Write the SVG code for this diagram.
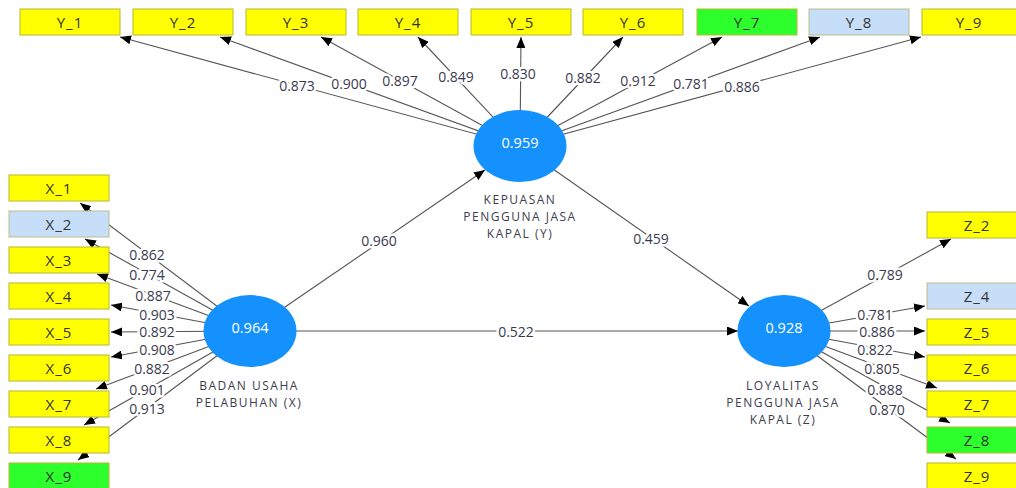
<svg xmlns="http://www.w3.org/2000/svg" width="1016" height="488" viewBox="0 0 1016 488">
<style>
.bg{fill:#ffffff}
.ln{stroke:#555555;stroke-width:1.1;fill:none}
.arr{marker-end:url(#ah)}
.lbl{font-family:"Open Sans","Noto Sans",sans-serif;font-size:14px;fill:#3a3a4e;text-anchor:middle;dominant-baseline:central;stroke:#ffffff;stroke-width:5;stroke-linejoin:round;paint-order:stroke}
.box{stroke:#b8b832;stroke-width:1}
.yel{fill:#ffff00}
.blu{fill:#c7def8;stroke:#b9bd8c}
.grn{fill:#2cff2c}
.btx{font-family:"Open Sans","Noto Sans",sans-serif;font-size:15px;fill:#333333;text-anchor:middle;dominant-baseline:central;letter-spacing:1px}
.lv{fill:#1591fd}
.lvv{font-family:"Open Sans","Noto Sans",sans-serif;font-size:14.5px;fill:#ffffff;text-anchor:middle;dominant-baseline:central}
.lvn{font-family:"Open Sans","Noto Sans",sans-serif;font-size:12px;fill:#3d3d4d;text-anchor:middle;letter-spacing:1.5px}
</style>
<defs>
<marker id="ah" markerUnits="userSpaceOnUse" markerWidth="11" markerHeight="9" refX="11" refY="4.5" orient="auto">
<path d="M0,0 L11,4.5 L0,9 Z" fill="#000000"/>
</marker>
</defs>
<rect class="bg" x="0" y="0" width="1016" height="488"/>
<g id="connectors">
<g id="lines">
<line class="ln arr" x1="520" y1="146" x2="120" y2="37"/>
<line class="ln arr" x1="520" y1="146" x2="220" y2="37"/>
<line class="ln arr" x1="520" y1="146" x2="321" y2="37"/>
<line class="ln arr" x1="520" y1="146" x2="418" y2="37"/>
<line class="ln arr" x1="520" y1="146" x2="521" y2="37"/>
<line class="ln arr" x1="520" y1="146" x2="623" y2="37"/>
<line class="ln arr" x1="520" y1="146" x2="722" y2="37"/>
<line class="ln arr" x1="520" y1="146" x2="820" y2="37"/>
<line class="ln arr" x1="520" y1="146" x2="921" y2="37"/>
<line class="ln arr" x1="250" y1="331" x2="80" y2="203"/>
<line class="ln arr" x1="250" y1="331" x2="85" y2="239"/>
<line class="ln arr" x1="250" y1="331" x2="97" y2="274"/>
<line class="ln arr" x1="250" y1="331" x2="111" y2="305"/>
<line class="ln arr" x1="250" y1="331" x2="111" y2="332"/>
<line class="ln arr" x1="250" y1="331" x2="111" y2="357"/>
<line class="ln arr" x1="250" y1="331" x2="96" y2="389"/>
<line class="ln arr" x1="250" y1="331" x2="84" y2="425"/>
<line class="ln arr" x1="250" y1="331" x2="78" y2="460"/>
<line class="ln arr" x1="784" y1="331" x2="951" y2="239"/>
<line class="ln arr" x1="784" y1="331" x2="925" y2="306"/>
<line class="ln arr" x1="784" y1="331" x2="925" y2="331"/>
<line class="ln arr" x1="784" y1="331" x2="925" y2="357"/>
<line class="ln arr" x1="784" y1="331" x2="937" y2="388"/>
<line class="ln arr" x1="784" y1="331" x2="950" y2="423"/>
<line class="ln arr" x1="784" y1="331" x2="956" y2="459"/>
<line class="ln arr" x1="250" y1="331" x2="485" y2="170"/>
<line class="ln arr" x1="250" y1="331" x2="738" y2="331"/>
<line class="ln arr" x1="520" y1="146" x2="749" y2="306"/>
</g>
<g id="labels">
<text class="lbl" x="297" y="85">0.873</text>
<text class="lbl" x="349" y="83">0.900</text>
<text class="lbl" x="400" y="80">0.897</text>
<text class="lbl" x="456" y="76">0.849</text>
<text class="lbl" x="518" y="73">0.830</text>
<text class="lbl" x="583" y="77">0.882</text>
<text class="lbl" x="638" y="80">0.912</text>
<text class="lbl" x="691" y="83">0.781</text>
<text class="lbl" x="742" y="86">0.886</text>
<text class="lbl" x="147" y="254">0.862</text>
<text class="lbl" x="147" y="274">0.774</text>
<text class="lbl" x="153" y="295">0.887</text>
<text class="lbl" x="157" y="314">0.903</text>
<text class="lbl" x="157" y="331">0.892</text>
<text class="lbl" x="157" y="349">0.908</text>
<text class="lbl" x="152" y="368">0.882</text>
<text class="lbl" x="147" y="389">0.901</text>
<text class="lbl" x="147" y="408">0.913</text>
<text class="lbl" x="885" y="274">0.789</text>
<text class="lbl" x="875" y="314">0.781</text>
<text class="lbl" x="877" y="331">0.886</text>
<text class="lbl" x="875" y="349">0.822</text>
<text class="lbl" x="882" y="368">0.805</text>
<text class="lbl" x="885" y="389">0.888</text>
<text class="lbl" x="887" y="409">0.870</text>
<text class="lbl" x="379" y="240">0.960</text>
<text class="lbl" x="516" y="331">0.522</text>
<text class="lbl" x="651" y="238">0.459</text>
</g>
</g>
<g id="Y_1"><rect class="box yel" x="20" y="9" width="100" height="26"/><text class="btx" x="70" y="22">Y_1</text></g>
<g id="Y_2"><rect class="box yel" x="133" y="9" width="100" height="26"/><text class="btx" x="183" y="22">Y_2</text></g>
<g id="Y_3"><rect class="box yel" x="246" y="9" width="100" height="26"/><text class="btx" x="296" y="22">Y_3</text></g>
<g id="Y_4"><rect class="box yel" x="358" y="9" width="100" height="26"/><text class="btx" x="408" y="22">Y_4</text></g>
<g id="Y_5"><rect class="box yel" x="471" y="9" width="100" height="26"/><text class="btx" x="521" y="22">Y_5</text></g>
<g id="Y_6"><rect class="box yel" x="583" y="9" width="100" height="26"/><text class="btx" x="633" y="22">Y_6</text></g>
<g id="Y_7"><rect class="box grn" x="697" y="9" width="100" height="26"/><text class="btx" x="747" y="22">Y_7</text></g>
<g id="Y_8"><rect class="box blu" x="809" y="9" width="100" height="26"/><text class="btx" x="859" y="22">Y_8</text></g>
<g id="Y_9"><rect class="box yel" x="922" y="9" width="100" height="26"/><text class="btx" x="969" y="22">Y_9</text></g>
<g id="X_1"><rect class="box yel" x="9" y="175" width="100" height="26"/><text class="btx" x="59" y="188">X_1</text></g>
<g id="X_2"><rect class="box blu" x="9" y="211" width="100" height="26"/><text class="btx" x="59" y="224">X_2</text></g>
<g id="X_3"><rect class="box yel" x="9" y="247" width="100" height="26"/><text class="btx" x="59" y="260">X_3</text></g>
<g id="X_4"><rect class="box yel" x="9" y="283" width="100" height="26"/><text class="btx" x="59" y="296">X_4</text></g>
<g id="X_5"><rect class="box yel" x="9" y="319" width="100" height="26"/><text class="btx" x="59" y="332">X_5</text></g>
<g id="X_6"><rect class="box yel" x="9" y="355" width="100" height="26"/><text class="btx" x="59" y="368">X_6</text></g>
<g id="X_7"><rect class="box yel" x="9" y="391" width="100" height="26"/><text class="btx" x="59" y="404">X_7</text></g>
<g id="X_8"><rect class="box yel" x="9" y="427" width="100" height="26"/><text class="btx" x="59" y="440">X_8</text></g>
<g id="X_9"><rect class="box grn" x="9" y="463" width="100" height="26"/><text class="btx" x="59" y="476">X_9</text></g>
<g id="Z_2"><rect class="box yel" x="927" y="212" width="100" height="26"/><text class="btx" x="977" y="225">Z_2</text></g>
<g id="Z_4"><rect class="box blu" x="927" y="283" width="100" height="26"/><text class="btx" x="977" y="296">Z_4</text></g>
<g id="Z_5"><rect class="box yel" x="927" y="319" width="100" height="26"/><text class="btx" x="977" y="332">Z_5</text></g>
<g id="Z_6"><rect class="box yel" x="927" y="355" width="100" height="26"/><text class="btx" x="977" y="368">Z_6</text></g>
<g id="Z_7"><rect class="box yel" x="927" y="391" width="100" height="26"/><text class="btx" x="977" y="404">Z_7</text></g>
<g id="Z_8"><rect class="box grn" x="927" y="427" width="100" height="26"/><text class="btx" x="977" y="440">Z_8</text></g>
<g id="Z_9"><rect class="box yel" x="927" y="463" width="100" height="26"/><text class="btx" x="977" y="476">Z_9</text></g>
<g id="Y">
<ellipse class="lv" cx="520" cy="146" rx="46.5" ry="36"/>
<text class="lvv" x="520" y="142">0.959</text>
<text class="lvn" x="520" y="204"><tspan x="520" y="204">KEPUASAN</tspan><tspan x="520" y="221">PENGGUNA JASA</tspan><tspan x="520" y="238">KAPAL (Y)</tspan></text>
</g>
<g id="X">
<ellipse class="lv" cx="250" cy="331" rx="46.5" ry="36"/>
<text class="lvv" x="250" y="327">0.964</text>
<text class="lvn" x="249" y="390"><tspan x="249" y="390">BADAN USAHA</tspan><tspan x="249" y="407">PELABUHAN (X)</tspan></text>
</g>
<g id="Z">
<ellipse class="lv" cx="784" cy="331" rx="46.5" ry="36"/>
<text class="lvv" x="784" y="327">0.928</text>
<text class="lvn" x="783" y="390"><tspan x="783" y="390">LOYALITAS</tspan><tspan x="783" y="407">PENGGUNA JASA</tspan><tspan x="783" y="424">KAPAL (Z)</tspan></text>
</g>
</svg>
